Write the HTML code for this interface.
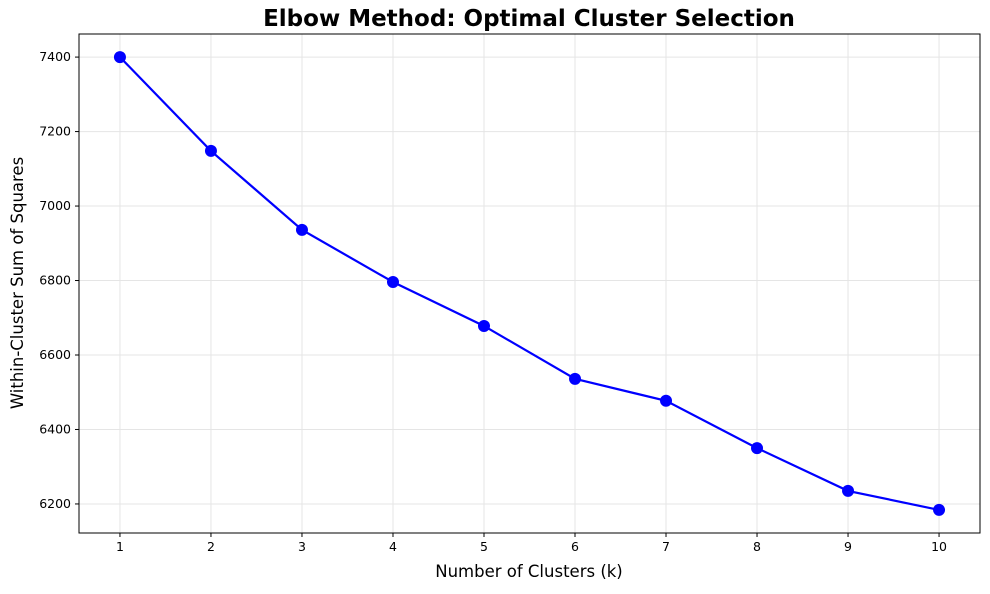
<!DOCTYPE html>
<html><head><meta charset="utf-8"><style>
body{margin:0;background:#fff;font-family:"DejaVu Sans","Liberation Sans",sans-serif}
svg text{font-family:"DejaVu Sans","Liberation Sans",sans-serif}
</style></head><body>
<svg id="chart" width="990" height="590" xmlns="http://www.w3.org/2000/svg">
<text x="529" y="26" text-anchor="middle" font-size="23" font-weight="bold">Elbow Method: Optimal Cluster Selection</text>
<text x="529" y="577" text-anchor="middle" font-size="16.5">Number of Clusters (k)</text>
<text transform="translate(23,283) rotate(-90)" text-anchor="middle" font-size="16.5">Within-Cluster Sum of Squares</text>
<g id="grid"></g><g id="ticks"></g><g id="series"></g>
<rect x="79" y="34" width="901" height="499" fill="none" stroke="#000" stroke-width="1"/>
</svg>
<script>
const categories=[1,2,3,4,5,6,7,8,9,10];
const wcss=[7400,7148,6936,6796,6678,6536,6477,6350,6235,6184];
const yTicks=[6200,6400,6600,6800,7000,7200,7400];
const L=79,R=980,T=34,B=533,xmin=0.55,xmax=10.45,ymin=6122,ymax=7462;
const xs=v=>L+(v-xmin)/(xmax-xmin)*(R-L);
const ys=v=>B-(v-ymin)/(ymax-ymin)*(B-T);
const NS="http://www.w3.org/2000/svg";
function mk(t,a,p){const e=document.createElementNS(NS,t);for(const k in a)e.setAttribute(k,a[k]);p.appendChild(e);return e;}
const g=document.getElementById('grid'),tk=document.getElementById('ticks'),s=document.getElementById('series');
categories.forEach(c=>{const x=xs(c);
 const l=mk('line',{x1:x,x2:x,y1:T,y2:B,stroke:'#e5e5e5','stroke-width':1},g);
 
 
 mk('line',{x1:x,x2:x,y1:B,y2:B+4,stroke:'#000'},tk);
 const t=mk('text',{x:x,y:B+18,'text-anchor':'middle','font-size':12.5},tk);t.textContent=c;
 
 });
yTicks.forEach(v=>{const y=ys(v);
 const l=mk('line',{x1:L,x2:R,y1:y,y2:y,stroke:'#e5e5e5','stroke-width':1},g);
 
 
 mk('line',{x1:L-4,x2:L,y1:y,y2:y,stroke:'#000'},tk);
 const t=mk('text',{x:L-8,y:y+4,'text-anchor':'end','font-size':12.5},tk);t.textContent=v;
 
 });
const pl=mk('polyline',{points:categories.map((c,i)=>xs(c)+','+ys(wcss[i])).join(' '),fill:'none',stroke:'#0000ff','stroke-width':2.2},s);


categories.forEach((c,i)=>{const p=mk('circle',{cx:xs(c),cy:ys(wcss[i]),r:6,fill:'#0000ff'},s);
 
 });
</script>
</body></html>
